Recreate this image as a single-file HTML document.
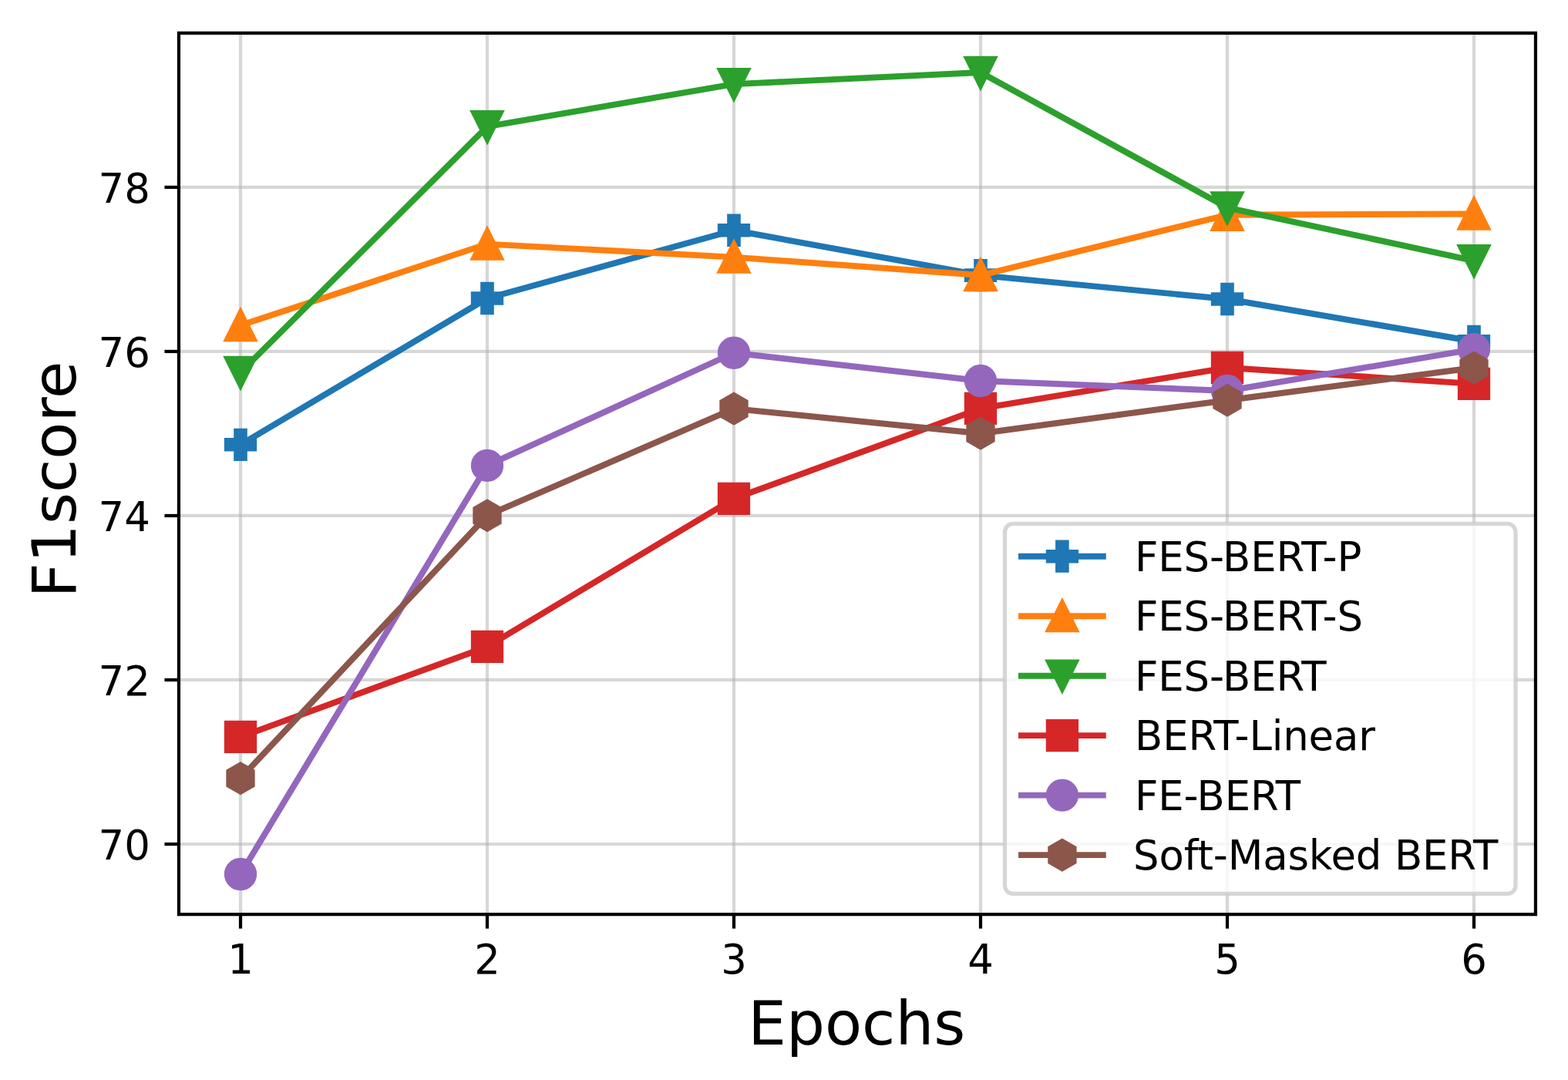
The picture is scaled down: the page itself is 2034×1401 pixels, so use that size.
<!DOCTYPE html>
<html><head><meta charset="utf-8"><title>F1score vs Epochs</title>
<style>html,body{margin:0;padding:0;background:#fff;}svg{display:block;}text{font-family:"DejaVu Sans","Liberation Sans",sans-serif;fill:#000;}</style></head><body>
<svg width="2034" height="1401" viewBox="0 0 2034 1401">
<rect x="0" y="0" width="2034" height="1401" fill="#fff"/>
<defs><clipPath id="ax"><rect x="231.95" y="42.9" width="1760" height="1143.17"/></clipPath></defs>
<g clip-path="url(#ax)" stroke="#b0b0b0" stroke-opacity="0.5" stroke-width="4.23" fill="none"><path d="M312 1186.07 V42.9"/><path d="M632 1186.07 V42.9"/><path d="M952 1186.07 V42.9"/><path d="M1272 1186.07 V42.9"/><path d="M1592 1186.07 V42.9"/><path d="M1912 1186.07 V42.9"/><path d="M231.95 1095 H1991.95"/><path d="M231.95 881.98 H1991.95"/><path d="M231.95 668.96 H1991.95"/><path d="M231.95 455.94 H1991.95"/><path d="M231.95 242.92 H1991.95"/></g>
<path d="M312 576.8 L632 387 L952 298.75 L1272 357.1 L1592 388 L1912 442.85" fill="none" stroke="#1f77b4" stroke-width="7.94" stroke-linejoin="round" stroke-linecap="square"/>
<g fill="#1f77b4" stroke="#1f77b4" stroke-width="5.29" stroke-linejoin="miter" stroke-miterlimit="10"><path d="M305.83 558.28 L318.17 558.28 L318.17 570.63 L330.51 570.63 L330.51 582.97 L318.17 582.97 L318.17 595.31 L305.83 595.31 L305.83 582.97 L293.49 582.97 L293.49 570.63 L305.83 570.63Z"/><path d="M625.83 368.49 L638.17 368.49 L638.17 380.83 L650.51 380.83 L650.51 393.17 L638.17 393.17 L638.17 405.51 L625.83 405.51 L625.83 393.17 L613.49 393.17 L613.49 380.83 L625.83 380.83Z"/><path d="M945.83 280.24 L958.17 280.24 L958.17 292.58 L970.51 292.58 L970.51 304.92 L958.17 304.92 L958.17 317.26 L945.83 317.26 L945.83 304.92 L933.49 304.92 L933.49 292.58 L945.83 292.58Z"/><path d="M1265.83 338.59 L1278.17 338.59 L1278.17 350.93 L1290.52 350.93 L1290.52 363.27 L1278.17 363.27 L1278.17 375.62 L1265.83 375.62 L1265.83 363.27 L1253.48 363.27 L1253.48 350.93 L1265.83 350.93Z"/><path d="M1585.83 369.49 L1598.17 369.49 L1598.17 381.83 L1610.52 381.83 L1610.52 394.17 L1598.17 394.17 L1598.17 406.51 L1585.83 406.51 L1585.83 394.17 L1573.48 394.17 L1573.48 381.83 L1585.83 381.83Z"/><path d="M1905.83 424.34 L1918.17 424.34 L1918.17 436.68 L1930.52 436.68 L1930.52 449.02 L1918.17 449.02 L1918.17 461.37 L1905.83 461.37 L1905.83 449.02 L1893.48 449.02 L1893.48 436.68 L1905.83 436.68Z"/></g>
<path d="M312 422 L632 316.6 L952 333.6 L1272 357.1 L1592 278.8 L1912 277.5" fill="none" stroke="#ff7f0e" stroke-width="7.94" stroke-linejoin="round" stroke-linecap="square"/>
<g fill="#ff7f0e" stroke="#ff7f0e" stroke-width="5.29" stroke-linejoin="miter" stroke-miterlimit="10"><path d="M312 403.49 L293.49 440.51 L330.51 440.51Z"/><path d="M632 298.09 L613.49 335.12 L650.51 335.12Z"/><path d="M952 315.09 L933.49 352.12 L970.51 352.12Z"/><path d="M1272 338.59 L1253.48 375.62 L1290.52 375.62Z"/><path d="M1592 260.29 L1573.48 297.31 L1610.52 297.31Z"/><path d="M1912 258.99 L1893.48 296.01 L1930.52 296.01Z"/></g>
<path d="M312 483 L632 164.2 L952 109.15 L1272 94 L1592 269.3 L1912 338.2" fill="none" stroke="#2ca02c" stroke-width="7.94" stroke-linejoin="round" stroke-linecap="square"/>
<g fill="#2ca02c" stroke="#2ca02c" stroke-width="5.29" stroke-linejoin="miter" stroke-miterlimit="10"><path d="M312 501.51 L330.51 464.49 L293.49 464.49Z"/><path d="M632 182.71 L650.51 145.69 L613.49 145.69Z"/><path d="M952 127.67 L970.51 90.64 L933.49 90.64Z"/><path d="M1272 112.52 L1290.52 75.48 L1253.48 75.48Z"/><path d="M1592 287.81 L1610.52 250.79 L1573.48 250.79Z"/><path d="M1912 356.71 L1930.52 319.69 L1893.48 319.69Z"/></g>
<path d="M312 955.9 L632 838.9 L952 646.8 L1272 529.9 L1592 477 L1912 497.9" fill="none" stroke="#d62728" stroke-width="7.94" stroke-linejoin="round" stroke-linecap="square"/>
<g fill="#d62728" stroke="#d62728" stroke-width="5.29" stroke-linejoin="miter" stroke-miterlimit="10"><path d="M293.49 937.38 L330.51 937.38 L330.51 974.41 L293.49 974.41Z"/><path d="M613.49 820.38 L650.51 820.38 L650.51 857.41 L613.49 857.41Z"/><path d="M933.49 628.28 L970.51 628.28 L970.51 665.31 L933.49 665.31Z"/><path d="M1253.48 511.38 L1290.52 511.38 L1290.52 548.41 L1253.48 548.41Z"/><path d="M1573.48 458.49 L1610.52 458.49 L1610.52 495.51 L1573.48 495.51Z"/><path d="M1893.48 479.38 L1930.52 479.38 L1930.52 516.41 L1893.48 516.41Z"/></g>
<path d="M312 1134 L632 603.9 L952 457.75 L1272 494 L1592 507 L1912 453.1" fill="none" stroke="#9467bd" stroke-width="7.94" stroke-linejoin="round" stroke-linecap="square"/>
<g fill="#9467bd" stroke="#9467bd" stroke-width="5.29" stroke-linejoin="miter" stroke-miterlimit="10"><circle cx="312" cy="1134" r="18.52"/><circle cx="632" cy="603.9" r="18.52"/><circle cx="952" cy="457.75" r="18.52"/><circle cx="1272" cy="494" r="18.52"/><circle cx="1592" cy="507" r="18.52"/><circle cx="1912" cy="453.1" r="18.52"/></g>
<path d="M312 1009.6 L632 668.7 L952 530.1 L1272 562.2 L1592 519.2 L1912 477" fill="none" stroke="#8c564b" stroke-width="7.94" stroke-linejoin="round" stroke-linecap="square"/>
<g fill="#8c564b" stroke="#8c564b" stroke-width="5.29" stroke-linejoin="miter" stroke-miterlimit="10"><path d="M312 991.09 L295.97 1000.34 L295.97 1018.86 L312 1028.12 L328.03 1018.86 L328.03 1000.34Z"/><path d="M632 650.19 L615.97 659.44 L615.97 677.96 L632 687.22 L648.03 677.96 L648.03 659.44Z"/><path d="M952 511.59 L935.97 520.84 L935.97 539.36 L952 548.62 L968.03 539.36 L968.03 520.84Z"/><path d="M1272 543.69 L1255.97 552.94 L1255.97 571.46 L1272 580.72 L1288.03 571.46 L1288.03 552.94Z"/><path d="M1592 500.69 L1575.97 509.94 L1575.97 528.46 L1592 537.72 L1608.03 528.46 L1608.03 509.94Z"/><path d="M1912 458.49 L1895.97 467.74 L1895.97 486.26 L1912 495.51 L1928.03 486.26 L1928.03 467.74Z"/></g>
<path d="M231.95 1186.07 H1991.95 V42.9 H231.95 Z" fill="none" stroke="#000" stroke-width="4.23" stroke-linejoin="miter" stroke-linecap="square"/>
<g stroke="#000" stroke-width="4.23"><path d="M312 1186.07 V1204.59"/><path d="M632 1186.07 V1204.59"/><path d="M952 1186.07 V1204.59"/><path d="M1272 1186.07 V1204.59"/><path d="M1592 1186.07 V1204.59"/><path d="M1912 1186.07 V1204.59"/><path d="M231.95 1095 H213.44"/><path d="M231.95 881.98 H213.44"/><path d="M231.95 668.96 H213.44"/><path d="M231.95 455.94 H213.44"/><path d="M231.95 242.92 H213.44"/></g>
<g font-size="52.9"><text x="312" y="1263" text-anchor="middle">1</text><text x="632" y="1263" text-anchor="middle">2</text><text x="952" y="1263" text-anchor="middle">3</text><text x="1272" y="1263" text-anchor="middle">4</text><text x="1592" y="1263" text-anchor="middle">5</text><text x="1912" y="1263" text-anchor="middle">6</text><text x="194.92" y="1115" text-anchor="end">70</text><text x="194.92" y="901.98" text-anchor="end">72</text><text x="194.92" y="688.96" text-anchor="end">74</text><text x="194.92" y="475.94" text-anchor="end">76</text><text x="194.92" y="262.92" text-anchor="end">78</text></g>
<text x="970.2" y="1355" font-size="78.75">Epochs</text>
<text transform="translate(97.8 775.5) rotate(-90)" font-size="78.75">F1score</text>
<rect x="1303.5" y="679.45" width="662.5" height="479.9" rx="10.58" ry="10.58" fill="#fff" fill-opacity="0.8" stroke="#ccc" stroke-opacity="0.8" stroke-width="5.29"/>
<path d="M1325 721.7 H1430.8" stroke="#1f77b4" stroke-width="7.94" stroke-linecap="square"/>
<g fill="#1f77b4" stroke="#1f77b4" stroke-width="5.29" stroke-linejoin="miter"><path d="M1371.73 703.19 L1384.07 703.19 L1384.07 715.53 L1396.42 715.53 L1396.42 727.87 L1384.07 727.87 L1384.07 740.22 L1371.73 740.22 L1371.73 727.87 L1359.38 727.87 L1359.38 715.53 L1371.73 715.53Z"/></g>
<text x="1472" y="740.95" font-size="52.9" letter-spacing="-0.15">FES-BERT-P</text>
<path d="M1325 799.18 H1430.8" stroke="#ff7f0e" stroke-width="7.94" stroke-linecap="square"/>
<g fill="#ff7f0e" stroke="#ff7f0e" stroke-width="5.29" stroke-linejoin="miter"><path d="M1377.9 780.67 L1359.38 817.7 L1396.42 817.7Z"/></g>
<text x="1472" y="818.43" font-size="52.9" letter-spacing="-0.15">FES-BERT-S</text>
<path d="M1325 876.66 H1430.8" stroke="#2ca02c" stroke-width="7.94" stroke-linecap="square"/>
<g fill="#2ca02c" stroke="#2ca02c" stroke-width="5.29" stroke-linejoin="miter"><path d="M1377.9 895.18 L1396.42 858.15 L1359.38 858.15Z"/></g>
<text x="1472" y="895.91" font-size="52.9" letter-spacing="-0.15">FES-BERT</text>
<path d="M1325 954.14 H1430.8" stroke="#d62728" stroke-width="7.94" stroke-linecap="square"/>
<g fill="#d62728" stroke="#d62728" stroke-width="5.29" stroke-linejoin="miter"><path d="M1359.38 935.63 L1396.42 935.63 L1396.42 972.66 L1359.38 972.66Z"/></g>
<text x="1472" y="973.39" font-size="52.9" letter-spacing="-0.15">BERT-Linear</text>
<path d="M1325 1031.62 H1430.8" stroke="#9467bd" stroke-width="7.94" stroke-linecap="square"/>
<g fill="#9467bd" stroke="#9467bd" stroke-width="5.29" stroke-linejoin="miter"><circle cx="1377.9" cy="1031.62" r="18.52"/></g>
<text x="1472" y="1050.87" font-size="52.9" letter-spacing="-0.15">FE-BERT</text>
<path d="M1325 1109.1 H1430.8" stroke="#8c564b" stroke-width="7.94" stroke-linecap="square"/>
<g fill="#8c564b" stroke="#8c564b" stroke-width="5.29" stroke-linejoin="miter"><path d="M1377.9 1090.59 L1361.87 1099.84 L1361.87 1118.36 L1377.9 1127.62 L1393.93 1118.36 L1393.93 1099.84Z"/></g>
<text x="1470" y="1128.35" font-size="52.9" letter-spacing="-0.15">Soft-Masked BERT</text>
</svg></body></html>
